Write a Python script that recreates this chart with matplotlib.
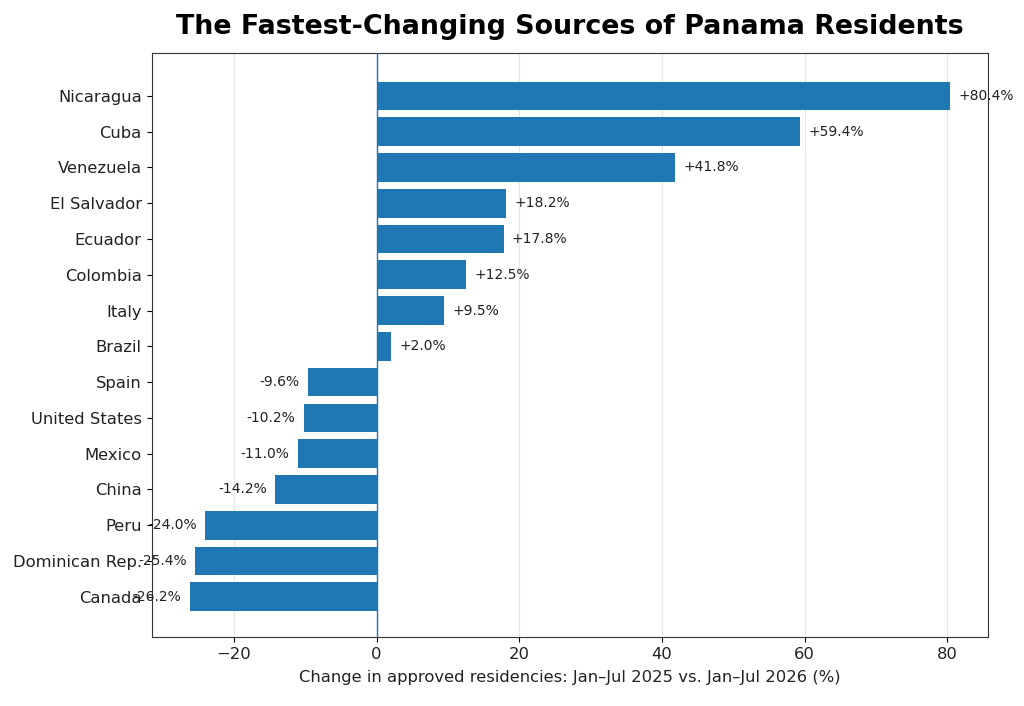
import matplotlib
matplotlib.use("Agg")
import matplotlib.pyplot as plt

countries = ["Nicaragua", "Cuba", "Venezuela", "El Salvador", "Ecuador", "Colombia",
             "Italy", "Brazil", "Spain", "United States", "Mexico", "China", "Peru",
             "Dominican Rep.", "Canada"]
changes = [80.4, 59.4, 41.8, 18.2, 17.8, 12.5, 9.5, 2.0, -9.6, -10.2, -11.0, -14.2,
           -24.0, -25.4, -26.2]

fig = plt.figure(figsize=(10.24, 7.06), dpi=100)
ax = fig.add_axes([0.148, 0.098, 0.817, 0.827])

ypos = list(range(len(countries)))
ax.barh(ypos, changes, height=0.8, color="#1f77b4", zorder=2)
ax.set_ylim(len(countries) - 1 + 1.12, -1.2)
ax.set_yticks(ypos)
ax.set_yticklabels(countries, fontsize=11.8, color="#222222")
ax.tick_params(axis="x", labelsize=11.8, labelcolor="#222222")
ax.axvline(0, color="#1f77b4", linewidth=1, zorder=3)
ax.grid(axis="x", color="#e6e6e6", linewidth=0.8, zorder=0)
ax.set_axisbelow(True)
for s in ax.spines.values():
    s.set_color("#333333")

for y, v in zip(ypos, changes):
    if v >= 0:
        ax.annotate(f"+{v:.1f}%", (v, y), xytext=(6, 0), textcoords="offset points",
                    ha="left", va="center", fontsize=10, color="#222222")
    else:
        ax.annotate(f"{v:.1f}%", (v, y), xytext=(-6, 0), textcoords="offset points",
                    ha="right", va="center", fontsize=10, color="#222222")

ax.set_xlabel("Change in approved residencies: Jan\u2013Jul 2025 vs. Jan\u2013Jul 2026 (%)",
              fontsize=11.8, color="#222222", labelpad=6)
ax.set_title("The Fastest-Changing Sources of Panama Residents", fontsize=19.4,
             fontweight="bold", pad=14)

fig.savefig("out.png", dpi=100)
